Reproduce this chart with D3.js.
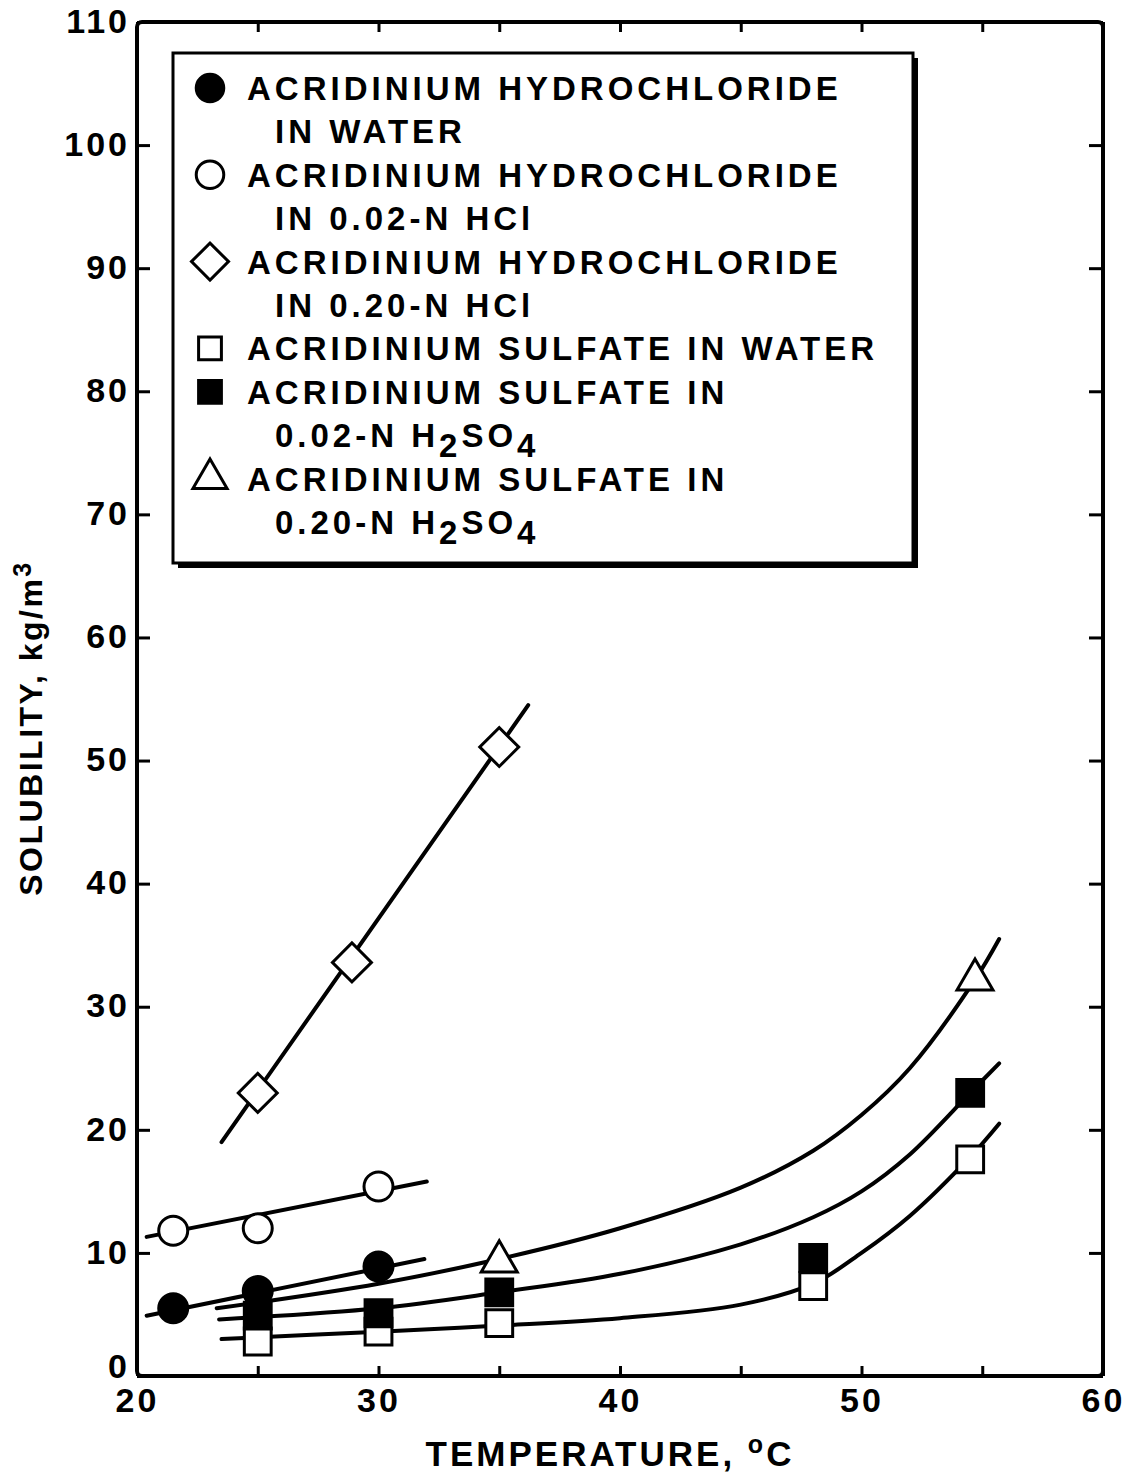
<!DOCTYPE html>
<html>
<head>
<meta charset="utf-8">
<script src="https://cdnjs.cloudflare.com/ajax/libs/d3/7.8.5/d3.min.js"></script>
<style>
  body { margin: 0; background: #fff; }
  text { font-family: "Liberation Sans", Arial, sans-serif; font-weight: bold; fill: #000; }
</style>
</head>
<body>
<script>
// ---- data ----
var xTicks = [20, 25, 30, 35, 40, 45, 50, 55, 60];
var xLabels = [20, 30, 40, 50, 60];
var yTicks = [0, 10, 20, 30, 40, 50, 60, 70, 80, 90, 100, 110];

// measured points (temperature in C, solubility in kg/m3)
var hclWaterT = [21.5, 25, 30],            hclWaterS = [5.5, 6.9, 8.9];
var hcl002T   = [21.5, 25, 30],            hcl002S   = [11.8, 12.0, 15.4];
var hcl020T   = [25, 28.9, 35],            hcl020S   = [23.0, 33.6, 51.1];
var sulWaterT = [25, 30, 35, 48, 54.5],    sulWaterS = [2.8, 3.6, 4.3, 7.3, 17.6];
var sul002T   = [25, 30, 35, 48, 54.5],    sul002S   = [4.9, 5.1, 6.8, 9.6, 23.0];
var sul020T   = [35, 54.7],                sul020S   = [9.3, 32.2];

// drawn fit curves
var fitHclWaterT = [20.4, 31.9],           fitHclWaterS = [4.9, 9.5];
var fitHcl002T   = [20.4, 32.0],           fitHcl002S   = [11.3, 15.8];
var fitHcl020T   = [23.5, 36.2],           fitHcl020S   = [19.0, 54.5];
var fitSulWaterT = [23.5, 30, 35, 40, 45, 48, 50, 52, 54.5, 55.7];
var fitSulWaterS = [3.0, 3.6, 4.1, 4.7, 5.8, 7.5, 10.0, 13.0, 17.8, 20.5];
var fitSul002T   = [23.4, 30, 35, 40, 45, 48, 50, 52, 54.5, 55.7];
var fitSul002S   = [4.6, 5.5, 6.8, 8.3, 10.7, 12.9, 15.0, 18.0, 23.0, 25.4];
var fitSul020T   = [23.3, 30, 35, 40, 45, 48, 50, 52, 54.7, 55.7];
var fitSul020S   = [5.5, 7.5, 9.5, 12.0, 15.3, 18.3, 21.2, 25.0, 32.2, 35.5];

// legend text (_ marks a subscript digit)
var legendLabels = [
  ['ACRIDINIUM HYDROCHLORIDE', 'IN WATER'],
  ['ACRIDINIUM HYDROCHLORIDE', 'IN 0.02-N HCl'],
  ['ACRIDINIUM HYDROCHLORIDE', 'IN 0.20-N HCl'],
  ['ACRIDINIUM SULFATE IN WATER'],
  ['ACRIDINIUM SULFATE IN', '0.02-N H_2SO_4'],
  ['ACRIDINIUM SULFATE IN', '0.20-N H_2SO_4']
];

// ---- setup ----
var width = 1127,
    height = 1475,
    margin = { top: 22, right: 24, bottom: 99, left: 137 };

var svg = d3.select('body').append('svg')
    .attr('width', width)
    .attr('height', height);

width = width - margin.left - margin.right;
height = height - margin.top - margin.bottom;

var xScale = d3.scaleLinear().domain([20, 60]).range([0, width]),
    yScale = d3.scaleLinear().domain([0, 110]).range([height, 0]);

var g = svg.append('g')
    .attr('transform', 'translate(' + margin.left + ',' + margin.top + ')');

function zip(t, s) { return t.map(function(d, i) { return [d, s[i]]; }); }

// series table: marker type + fill
var series = [
  { pts: zip(hclWaterT, hclWaterS), fit: zip(fitHclWaterT, fitHclWaterS), sym: 'circle',   fill: '#000' },
  { pts: zip(hcl002T, hcl002S),     fit: zip(fitHcl002T, fitHcl002S),     sym: 'circle',   fill: '#fff' },
  { pts: zip(hcl020T, hcl020S),     fit: zip(fitHcl020T, fitHcl020S),     sym: 'diamond',  fill: '#fff' },
  { pts: zip(sulWaterT, sulWaterS), fit: zip(fitSulWaterT, fitSulWaterS), sym: 'square',   fill: '#fff' },
  { pts: zip(sul002T, sul002S),     fit: zip(fitSul002T, fitSul002S),     sym: 'square',   fill: '#000' },
  { pts: zip(sul020T, sul020S),     fit: zip(fitSul020T, fitSul020S),     sym: 'triangle', fill: '#fff' }
];

function symbolPath(type, scale) {
  scale = scale || 1;
  if (type === 'circle') return d3.symbol(d3.symbolCircle, 660 * scale * scale)();
  if (type === 'square') return d3.symbol(d3.symbolSquare, 720 * scale * scale)();
  if (type === 'diamond') return d3.symbol(d3.symbolSquare, 760 * scale * scale)();
  return d3.symbol(d3.symbolTriangle, 560 * scale * scale)();
}

// ---- axes ----
function styleAxis(sel) {
  sel.select('.domain').remove();
  sel.selectAll('.tick line').attr('stroke', '#000').attr('stroke-width', 3);
  sel.selectAll('.tick text').attr('font-size', 34).attr('font-family', null)
     .style('letter-spacing', '3px');
}
function dropText(sel) { sel.selectAll('.tick text').remove(); }

g.append('g')
  .attr('class', 'axis axis--x')
  .attr('transform', 'translate(0,' + height + ')')
  .call(d3.axisBottom(xScale).tickValues(xTicks).tickSize(-10).tickPadding(12))
  .call(styleAxis)
  .selectAll('.tick text')
  .filter(function(d) { return xLabels.indexOf(d) < 0; })
  .remove();

g.append('g')
  .attr('class', 'axis axis--top')
  .call(d3.axisTop(xScale).tickValues(xTicks).tickSize(-10))
  .call(styleAxis)
  .call(dropText);

// the zero label sits a little above its tick in the original
g.append('g')
  .attr('class', 'axis axis--y')
  .call(d3.axisLeft(yScale).tickValues(yTicks).tickSize(-13).tickPadding(7))
  .call(styleAxis)
  .selectAll('.tick text')
  .attr('dy', function(d) { return d === 0 ? '0.05em' : '0.3em'; });

g.append('g')
  .attr('class', 'axis axis--right')
  .attr('transform', 'translate(' + width + ',0)')
  .call(d3.axisRight(yScale).tickValues(yTicks).tickSize(-14))
  .call(styleAxis)
  .call(dropText);

// frame
g.append('rect')
  .attr('width', width)
  .attr('height', height)
  .attr('rx', 5)
  .attr('fill', 'none')
  .attr('stroke', '#000')
  .attr('stroke-width', 4);

// axis titles
var xt = svg.append('text')
  .attr('x', 610).attr('y', 1466)
  .attr('text-anchor', 'middle')
  .attr('font-size', 35)
  .style('letter-spacing', '3px');
xt.append('tspan').text('TEMPERATURE, ');
xt.append('tspan').attr('dy', -13).attr('font-size', 25).text('o');
xt.append('tspan').attr('dy', 13).text('C');

var yt = svg.append('text')
  .attr('transform', 'translate(42,728) rotate(-90)')
  .attr('text-anchor', 'middle')
  .attr('font-size', 32)
  .style('letter-spacing', '2.5px');
yt.append('tspan').text('SOLUBILITY, kg/m');
yt.append('tspan').attr('dy', -11).attr('font-size', 25).text('3');

// ---- fit lines ----
var line = d3.line()
  .x(function(d) { return xScale(d[0]); })
  .y(function(d) { return yScale(d[1]); })
  .curve(d3.curveCatmullRom.alpha(0.5));

g.selectAll('.fit')
  .data(series)
  .enter().append('path')
  .attr('class', 'fit')
  .attr('d', function(d) { return line(d.fit); })
  .attr('fill', 'none')
  .attr('stroke', '#000')
  .attr('stroke-width', 4)
  .attr('stroke-linecap', 'round');

// ---- markers ----
series.forEach(function(s) {
  g.selectAll(null)
    .data(s.pts)
    .enter().append('path')
    .attr('d', symbolPath(s.sym))
    .attr('transform', function(d) {
      return 'translate(' + xScale(d[0]) + ',' + yScale(d[1]) + ')' + (s.sym === 'diamond' ? ' rotate(45)' : '');
    })
    .attr('fill', s.fill)
    .attr('stroke', '#000')
    .attr('stroke-width', 3);
});

// ---- legend ----
var lg = svg.append('g').attr('transform', 'translate(173,53)');
lg.append('rect').attr('x', 5).attr('y', 5).attr('width', 740).attr('height', 510).attr('fill', '#000');
lg.append('rect').attr('width', 740).attr('height', 510).attr('fill', '#fff')
  .attr('stroke', '#000').attr('stroke-width', 3);

function richText(sel, str) {
  var shift = 0;
  str.split(/(_\d)/).forEach(function(part) {
    if (!part) return;
    if (part[0] === '_') {
      sel.append('tspan').attr('dy', 10 - shift).text(part[1]);
      shift = 10;
    } else {
      sel.append('tspan').attr('dy', -shift).text(part);
      shift = 0;
    }
  });
}

var row = 0, lineH = 43.4;
legendLabels.forEach(function(lines, i) {
  var s = series[i];
  var cy = 35 + row * lineH;
  lg.append('path')
    .attr('d', symbolPath(s.sym, s.sym === 'square' ? 0.85 : 0.95))
    .attr('transform', 'translate(37,' + cy + ')' + (s.sym === 'diamond' ? ' rotate(45)' : ''))
    .attr('fill', s.fill)
    .attr('stroke', '#000')
    .attr('stroke-width', 3);
  lines.forEach(function(txt, j) {
    var t = lg.append('text')
      .attr('x', j === 0 ? 74 : 102)
      .attr('y', 47 + row * lineH)
      .attr('font-size', 33)
      .style('letter-spacing', '4px');
    richText(t, txt);
    row++;
  });
});
</script>
</body>
</html>
